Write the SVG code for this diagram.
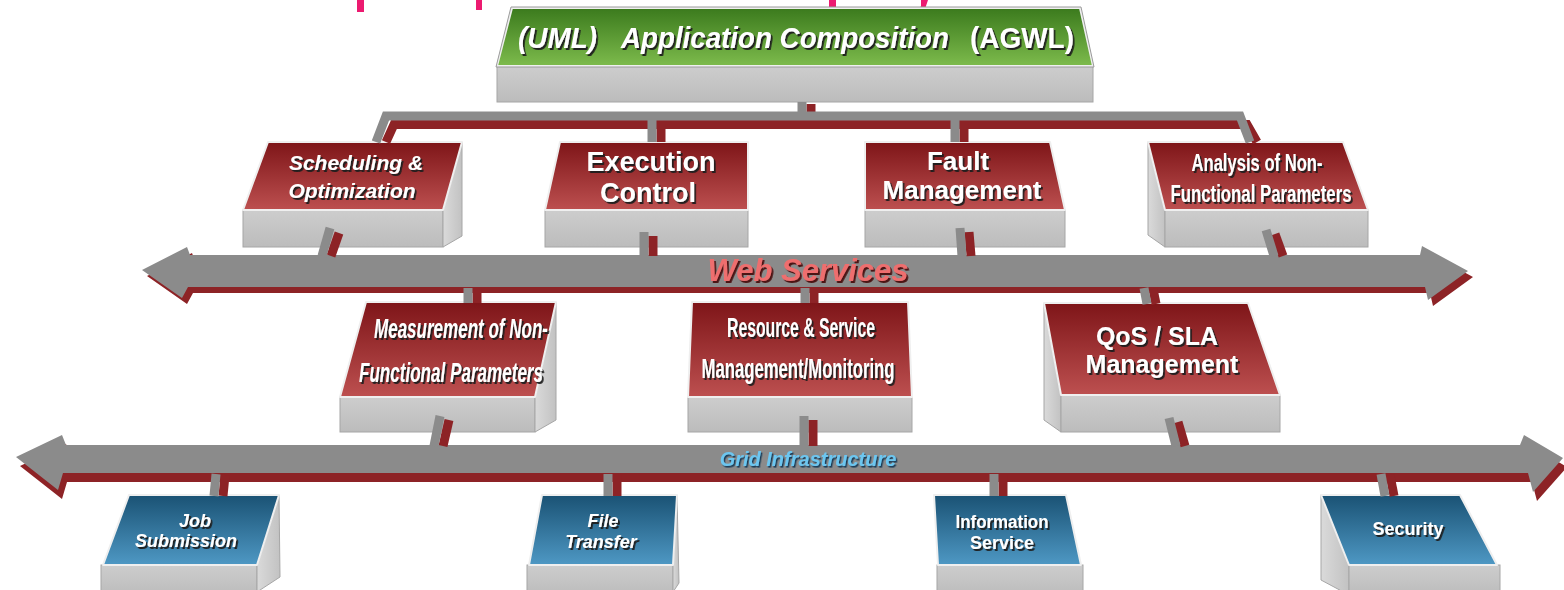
<svg xmlns="http://www.w3.org/2000/svg" width="1564" height="590" viewBox="0 0 1564 590">
  <defs>
    <linearGradient id="gRed" x1="0" y1="0" x2="0" y2="1">
      <stop offset="0" stop-color="#7e1518"/>
      <stop offset="1" stop-color="#bd5050"/>
    </linearGradient>
    <linearGradient id="gBlue" x1="0" y1="0" x2="0" y2="1">
      <stop offset="0" stop-color="#1a5274"/>
      <stop offset="1" stop-color="#4e98c4"/>
    </linearGradient>
    <linearGradient id="gGreen" x1="0" y1="0" x2="0" y2="1">
      <stop offset="0" stop-color="#3b7a1d"/>
      <stop offset="1" stop-color="#7dbb4c"/>
    </linearGradient>
    <linearGradient id="gFront" x1="0" y1="0" x2="0" y2="1">
      <stop offset="0" stop-color="#cdcdcd"/>
      <stop offset="1" stop-color="#bcbcbc"/>
    </linearGradient>
    <linearGradient id="gSide" x1="0" y1="0" x2="1" y2="0">
      <stop offset="0" stop-color="#dadada"/>
      <stop offset="1" stop-color="#c2c2c2"/>
    </linearGradient>
    <filter id="shadow" x="-10%" y="-20%" width="120%" height="150%">
      <feDropShadow dx="1.8" dy="2" stdDeviation="0.5" flood-color="#1a1a1a" flood-opacity="0.95"/>
    </filter>
    <filter id="shadowRed" x="-10%" y="-20%" width="120%" height="150%">
      <feDropShadow dx="1.8" dy="2" stdDeviation="0.4" flood-color="#4a0f10" flood-opacity="0.95"/>
    </filter>
    <filter id="shadowBlue" x="-10%" y="-20%" width="120%" height="150%">
      <feDropShadow dx="1.4" dy="1.6" stdDeviation="0.4" flood-color="#173a55" flood-opacity="0.95"/>
    </filter>
  </defs>
  <style>
    .face { stroke: #efefef; stroke-width: 2; stroke-linejoin: round; }
    .red { fill: url(#gRed); }
    .blue { fill: url(#gBlue); }
    .green { fill: url(#gGreen); }
    .front { fill: url(#gFront); stroke: #a6a6a6; stroke-width: 1; }
    .side { fill: url(#gSide); stroke: #a6a6a6; stroke-width: 1; }
    .outline { fill: none; stroke: #9a9a9a; stroke-width: 1; }
    .lbl { font-family: "Liberation Sans", Arial, sans-serif; font-weight: bold; fill: #ffffff; text-anchor: middle; filter: url(#shadow); }
    .it { font-style: italic; }
    .pg { fill: none; stroke: #8b8b8b; stroke-width: 9; stroke-linecap: butt; stroke-linejoin: miter; }
    .pr { fill: none; stroke: #8d2326; stroke-width: 9; stroke-linecap: butt; stroke-linejoin: miter; }
    .busG { fill: #8b8b8b; }
    .busR { fill: #8d2326; }
    .mark { fill: #ec1a70; }
  </style>

  <rect width="1564" height="590" fill="#ffffff"/>

  <!-- heading descenders clipped at the top edge -->
  <g id="heading-fragments">
    <rect class="mark" x="357" y="0" width="7" height="12"/>
    <rect class="mark" x="476" y="0" width="6" height="10"/>
    <rect class="mark" x="829" y="0" width="7" height="12"/>
    <path class="mark" d="M921,0 H928 L925,9 Q922,14 915,13 L916,9 Q920,9 921,6 Z"/>
  </g>

  <!-- Web Services bus -->
  <g id="web-services">
    <path class="busR" transform="translate(5,6)" d="M142,270 L187,247 L190,255 L1420,255 L1422,246 L1468,271 L1428,300 L1425,287 L188,287 L182,298 Z"/>
    <path class="busG" d="M142,270 L187,247 L190,255 L1420,255 L1422,246 L1468,271 L1428,300 L1425,287 L188,287 L182,298 Z"/>
    <text x="808" y="281" font-family="Liberation Sans, Arial, sans-serif" font-weight="bold" font-style="italic" font-size="31" text-anchor="middle" fill="#ee6e6e" filter="url(#shadowRed)">Web Services</text>
  </g>

  <!-- Grid Infrastructure bus -->
  <g id="grid-infrastructure">
    <path class="busR" transform="translate(4,9)" d="M16,457 L62,435 L66,445 L1520,445 L1524,435 L1563,458 L1533,492 L1528,473 L63,473 L58,490 Z"/>
    <path class="busG" d="M16,457 L62,435 L66,445 L1520,445 L1524,435 L1563,458 L1533,492 L1528,473 L63,473 L58,490 Z"/>
    <text x="808" y="466" font-family="Liberation Sans, Arial, sans-serif" font-weight="bold" font-style="italic" font-size="20" text-anchor="middle" fill="#6cc6f0" filter="url(#shadowBlue)">Grid Infrastructure</text>
  </g>

  <!-- Top level: application composition -->
  <g id="app-composition">
    <rect class="front" x="497" y="66" width="596" height="36"/>
    <polygon class="face green" points="512,8 1080,8 1093,66 497,66"/>
    <polygon class="outline" points="511,7 1081,7 1094,67 496,67"/>
    <text class="lbl" y="48" font-size="29" style="text-anchor:start"><tspan x="518" font-style="italic" textLength="79" lengthAdjust="spacingAndGlyphs">(UML)</tspan><tspan x="621" font-style="italic" textLength="328" lengthAdjust="spacingAndGlyphs">Application Composition</tspan><tspan x="970" textLength="104" lengthAdjust="spacingAndGlyphs">(AGWL)</tspan></text>
  </g>

  <!-- Middle tier -->
  <g id="scheduling">
    <rect class="front" x="243" y="210" width="200" height="37"/>
    <polygon class="side" points="462,142 462,236 443,247 443,210"/>
    <polygon class="face red" points="268,142 462,142 443,210 243,210"/>
    <text class="lbl it" font-size="21"><tspan x="356" y="170">Scheduling &amp;</tspan><tspan x="352" y="198">Optimization</tspan></text>
  </g>

  <g id="execution-control">
    <rect class="front" x="545" y="210" width="203" height="37"/>
    <polygon class="face red" points="560,142 748,142 748,210 545,210"/>
    <text class="lbl" font-size="27"><tspan x="651" y="171">Execution</tspan><tspan x="648" y="202">Control</tspan></text>
  </g>

  <g id="fault-management">
    <rect class="front" x="865" y="210" width="200" height="37"/>
    <polygon class="face red" points="865,142 1050,142 1065,210 865,210"/>
    <text class="lbl" font-size="26"><tspan x="958" y="170">Fault</tspan><tspan x="962" y="199">Management</tspan></text>
  </g>

  <g id="analysis-nfp">
    <polygon class="side" points="1148,142 1165,210 1165,247 1148,235"/>
    <rect class="front" x="1165" y="210" width="203" height="37"/>
    <polygon class="face red" points="1148,142 1343,142 1368,210 1165,210"/>
    <text class="lbl" font-size="24"><tspan x="1257" y="171" textLength="131" lengthAdjust="spacingAndGlyphs">Analysis of Non-</tspan><tspan x="1261" y="202" textLength="181" lengthAdjust="spacingAndGlyphs">Functional Parameters</tspan></text>
  </g>

  <!-- Service tier -->
  <g id="measurement-nfp">
    <rect class="front" x="340" y="397" width="195" height="35"/>
    <polygon class="side" points="556,302 556,420 535,432 535,397"/>
    <polygon class="face red" points="366,302 556,302 535,397 340,397"/>
    <text class="lbl it" font-size="28"><tspan x="461" y="338" textLength="174" lengthAdjust="spacingAndGlyphs">Measurement of Non-</tspan><tspan x="451" y="382" textLength="184" lengthAdjust="spacingAndGlyphs">Functional Parameters</tspan></text>
  </g>

  <g id="resource-service">
    <rect class="front" x="688" y="397" width="224" height="35"/>
    <polygon class="face red" points="692,302 908,302 912,397 688,397"/>
    <text class="lbl" font-size="27"><tspan x="801" y="337" textLength="148" lengthAdjust="spacingAndGlyphs">Resource &amp; Service</tspan><tspan x="798" y="378" textLength="193" lengthAdjust="spacingAndGlyphs">Management/Monitoring</tspan></text>
  </g>

  <g id="qos-sla">
    <polygon class="side" points="1044,303 1061,395 1061,432 1044,420"/>
    <rect class="front" x="1061" y="395" width="219" height="37"/>
    <polygon class="face red" points="1044,303 1248,303 1280,395 1061,395"/>
    <text class="lbl" font-size="25"><tspan x="1157" y="345">QoS / SLA</tspan><tspan x="1162" y="373">Management</tspan></text>
  </g>

  <!-- Grid services -->
  <g id="job-submission">
    <rect class="front" x="101" y="565" width="156" height="30"/>
    <polygon class="side" points="279,495 280,577 257,592 257,565"/>
    <polygon class="face blue" points="129,495 279,495 257,565 103,565"/>
    <text class="lbl it" font-size="18"><tspan x="195" y="527">Job</tspan><tspan x="186" y="547">Submission</tspan></text>
  </g>

  <g id="file-transfer">
    <rect class="front" x="527" y="565" width="146" height="30"/>
    <polygon class="side" points="677,495 679,583 673,592 673,565"/>
    <polygon class="face blue" points="542,495 677,495 673,565 529,565"/>
    <text class="lbl it" font-size="18"><tspan x="603" y="527">File</tspan><tspan x="601" y="548">Transfer</tspan></text>
  </g>

  <g id="information-service">
    <rect class="front" x="937" y="565" width="146" height="30"/>
    <polygon class="face blue" points="934,495 1066,495 1081,565 938,565"/>
    <text class="lbl" font-size="18"><tspan x="1002" y="528" textLength="93" lengthAdjust="spacingAndGlyphs">Information</tspan><tspan x="1002" y="549">Service</tspan></text>
  </g>

  <g id="security">
    <polygon class="side" points="1321,495 1349,565 1349,595 1321,580"/>
    <rect class="front" x="1349" y="565" width="151" height="30"/>
    <polygon class="face blue" points="1321,495 1460,495 1497,565 1349,565"/>
    <text class="lbl" font-size="18"><tspan x="1408" y="535">Security</tspan></text>
  </g>

  <!-- Connectors: each pipe is a grey bar with a red underside -->
  <g id="connectors">
    <!-- composition to middle tier -->
    <path class="pr" d="M811,104 V120"/>
    <path class="pg" d="M802,102 V116"/>
    <path class="pr" d="M386,142 L394,124.5 H1247 L1257,142"/>
    <path class="pr" d="M661,124 V142 M964,124 V142"/>
    <path class="pg" d="M376,142 L386,116 H1240 L1250,142"/>
    <path class="pg" d="M652,116 V142 M955,116 V142"/>

    <!-- middle tier to Web Services -->
    <path class="pr" d="M339,233 L331,256"/>
    <path class="pg" d="M330,228 L322,256"/>
    <path class="pr" d="M653,236 V256"/>
    <path class="pg" d="M644,232 V256"/>
    <path class="pr" d="M969,232 L971,256"/>
    <path class="pg" d="M960,228 L962,256"/>
    <path class="pr" d="M1275,234 L1283,256"/>
    <path class="pg" d="M1266,230 L1274,256"/>

    <!-- Web Services to service tier -->
    <path class="pr" d="M477,289 V303"/>
    <path class="pg" d="M468,288 V303"/>
    <path class="pr" d="M814,289 V303"/>
    <path class="pg" d="M805,288 V303"/>
    <path class="pr" d="M1153,289 L1156,304"/>
    <path class="pg" d="M1144,288 L1147,304"/>

    <!-- service tier to Grid Infrastructure -->
    <path class="pr" d="M449,420 L443,446"/>
    <path class="pg" d="M440,416 L434,446"/>
    <path class="pr" d="M813,420 V446"/>
    <path class="pg" d="M804,416 V446"/>
    <path class="pr" d="M1178,422 L1185,446"/>
    <path class="pg" d="M1169,418 L1176,446"/>

    <!-- Grid Infrastructure to grid services -->
    <path class="pr" d="M225,475 L223,496"/>
    <path class="pg" d="M216,474 L214,496"/>
    <path class="pr" d="M617,475 V496"/>
    <path class="pg" d="M608,474 V496"/>
    <path class="pr" d="M1003,475 V496"/>
    <path class="pg" d="M994,474 V496"/>
    <path class="pr" d="M1390,475 L1394,496"/>
    <path class="pg" d="M1381,474 L1385,496"/>
  </g>
</svg>
